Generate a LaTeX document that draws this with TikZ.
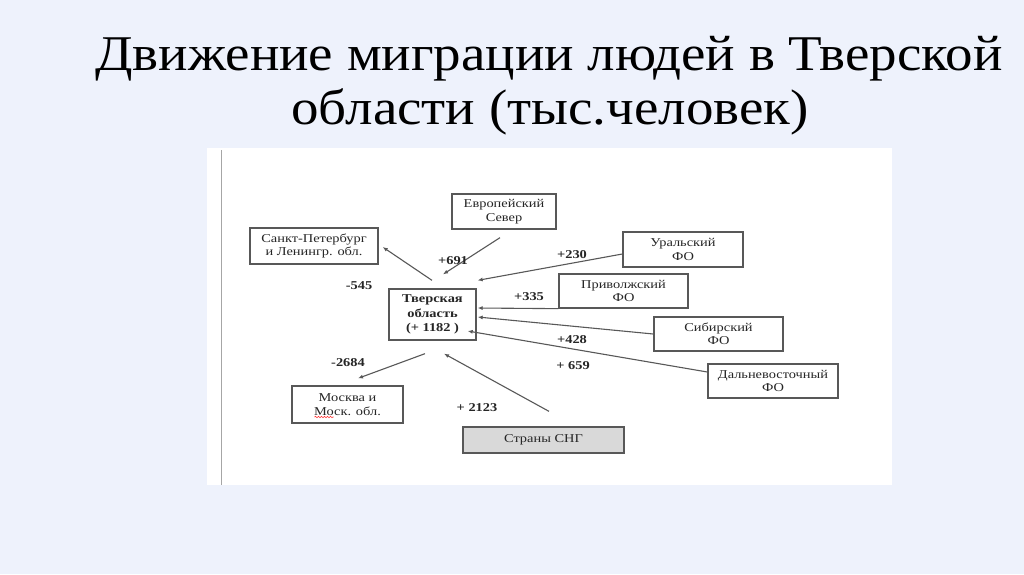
\documentclass[tikz,border=0pt]{standalone}
\usepackage{fontspec}
\setmainfont{Liberation Serif}
\newfontfamily\titlefont[FakeStretch=1.1]{Liberation Serif}
\newfontfamily\boxfont[FakeStretch=1.2]{Liberation Serif}
\usetikzlibrary{arrows.meta,calc,decorations.pathmorphing}
\definecolor{bg}{RGB}{238,242,252}
\definecolor{ln}{RGB}{88,88,88}
\definecolor{sngfill}{RGB}{217,217,217}
\begin{document}
\begin{tikzpicture}[x=1pt,y=-1pt,
  box/.style={draw=ln,line width=1.3pt,fill=white,inner sep=0pt,align=center,
    font=\boxfont\fontsize{12}{13.5}\selectfont,text=black!85},
  arr/.style={draw=ln,line width=1.1pt,-{Latex[length=5pt,width=4pt]}},
  lbl/.style={font=\boxfont\bfseries\fontsize{12}{13.5}\selectfont,text=black!85,inner sep=0pt},
  ttl/.style={font=\titlefont\fontsize{50}{60}\selectfont,anchor=base,inner sep=0pt,text=black}]
\useasboundingbox (0,0) rectangle (1024,574);
\fill[bg] (0,0) rectangle (1024,574);
\fill[white] (207,148) rectangle (892,485);
\draw[gray!70,line width=1pt] (221,150) -- (221,485);

% title
\node[ttl] (t1) at (549,70) {Движение миграции людей в Тверской};
\node[ttl] (t2) at (550,124) {области (тыс.человек)};

% boxes
\node[box,minimum width=104pt,minimum height=35pt] (evs) at (504,211.5) {Европейский\\Север};
\node[box,minimum width=128pt,minimum height=36pt] (spb) at (314,246) {Санкт-Петербург\\и Ленингр. обл.};
\node[box,minimum width=87pt,minimum height=51pt,font=\boxfont\bfseries\fontsize{12}{14.5}\selectfont] (tv) at (432.5,314.5) {Тверская\\область\\(+ 1182 )};
\node[box,minimum width=120pt,minimum height=35pt] (ural) at (683,249.5) {Уральский\\ФО};
\node[box,minimum width=129pt,minimum height=34pt] (privo) at (623.5,291) {Приволжский\\ФО};
\node[box,minimum width=129pt,minimum height=34pt] (sib) at (718.5,334) {Сибирский\\ФО};
\node[box,minimum width=130pt,minimum height=34pt] (dv) at (773,381) {Дальневосточный\\ФО};
\node[box,minimum width=111pt,minimum height=37pt] (msk) at (347.5,404.5) {Москва и\\Моск. обл.};
\node[box,fill=sngfill,minimum width=161pt,minimum height=26pt] (sng) at (543.5,440) {Страны СНГ};

% spell-check squiggle
\draw[red!80,line width=0.6pt,decorate,decoration={snake,amplitude=0.7pt,segment length=3pt}]
  ($(msk.center)+(-33,12.5)$) -- ($(msk.center)+(-14,12.5)$);

% connectors
\draw[arr] ($(evs.south)+(-4,8)$) -- ($(tv.north)+(10.5,-14)$);
\draw[arr] ($(tv.north)+(-0.5,-8)$) -- ($(spb.east)+(4,1)$);
\draw[arr] ($(ural.west)+(0,4.5)$) -- ($(tv.north east)+(1,-8)$);
\draw[arr] (privo.south west) -- ($(tv.east)+(1,-6.5)$);
\draw[arr] (sib.west) -- ($(tv.east)+(1,2.5)$);
\draw[arr] ($(dv.west)+(0,-9)$) -- ($(tv.east)+(-9,16.5)$);
\draw[arr] ($(tv.south)+(-7.5,13)$) -- ($(msk.north)+(10.5,-7)$);
\draw[arr] ($(sng.north)+(5.5,-15)$) -- ($(tv.south)+(11.5,13)$);

% labels
\node[lbl] (l691) at (453,261) {+691};
\node[lbl] (l545) at (359,286) {-545};
\node[lbl] (l230) at (572,255) {+230};
\node[lbl] (l335) at (529,297) {+335};
\node[lbl] (l428) at (572,340) {+428};
\node[lbl] (l659) at (573,366) {+ 659};
\node[lbl] (l2123) at (477,408) {+ 2123};
\node[lbl] (l2684) at (348,363) {-2684};
\end{tikzpicture}
\end{document}
